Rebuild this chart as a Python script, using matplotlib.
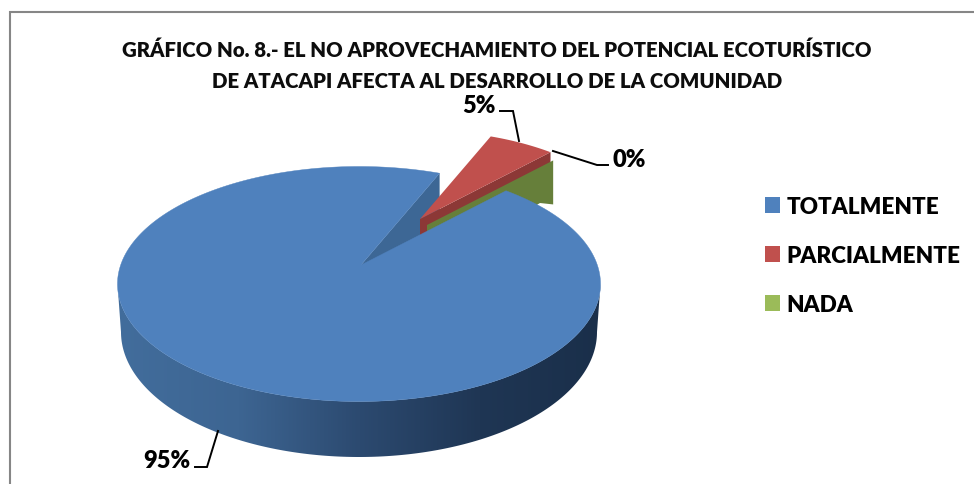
import numpy as np
import matplotlib
matplotlib.use("Agg")
import matplotlib.pyplot as plt
from matplotlib.patches import Polygon, Patch
from matplotlib.colors import LinearSegmentedColormap

categories = ["TOTALMENTE", "PARCIALMENTE", "NADA"]
values = [95, 5, 0]
labels = ["95%", "5%", "0%"]
title = ("GRÁFICO No. 8.- EL NO APROVECHAMIENTO DEL POTENCIAL ECOTURÍSTICO\n"
         "DE ATACAPI AFECTA AL DESARROLLO DE LA COMUNIDAD")
colors = ["#4f81bd", "#c0504d", "#9bbb59"]

plt.rcParams["font.family"] = ["Lato", "DejaVu Sans"]
fig = plt.figure(figsize=(9.74, 4.85), dpi=100)
ax = fig.add_axes([0, 0, 1, 1])
ax.axis("off")

# frame: only the left and top edges fall inside the crop
ax.plot([9.5, 9.5, 974], [485, 12.5, 12.5], color="#868686", lw=1.5, zorder=1,
        solid_joinstyle="miter")

cx, cy, rx, ry = 359, 285, 241.5, 117.5
cxb, cyb, rxb, ryb = 359, 333, 238, 125
apex = np.array([361.0, 266.0])
depth = 44

def top(t):
    t = np.radians(t)
    return np.column_stack([cx + rx*np.cos(t), cy - ry*np.sin(t)])

def bottom(t):
    t = np.radians(t)
    return np.column_stack([cxb + rxb*np.cos(t), cyb - ryb*np.sin(t)])

total = sum(values)
start = 52.5
spans = [360*v/total for v in values]
blue_a, blue_b = start, start - spans[0]
red_a, red_b = blue_b + 360, blue_b + 360 - spans[1]
green_a = red_b

# outer wall of the large slice: horizontal shading clipped to the rim
ts = np.linspace(180, 360, 241)
wall = Polygon(np.vstack([top(ts), bottom(ts)[::-1]]), fc="none", ec="none", zorder=2)
ax.add_patch(wall)
cmap = LinearSegmentedColormap.from_list("w", ["#426d9c", "#3d6592", "#2c4a70", "#1f3654", "#1a2f4a"])
grad = np.linspace(0, 1, 512)[None, :]
im = ax.imshow(grad, cmap=cmap, extent=(cx-rx, cx+rx, 470, 280), aspect="auto", zorder=2,
               interpolation="bilinear")
im.set_clip_path(wall)

ax.set_xlim(0, 974); ax.set_ylim(485, 0)

# cut face of the large slice, behind the gap
pb72 = top([red_a])[0]
d = np.array([0, depth])
ax.add_patch(Polygon([apex, pb72, pb72+d, apex+d], fc="#3d6795", ec="none", zorder=3))

# exploded small slices
k_red = 0.9
apex_r = np.array([420.0, 220.0])
tr = np.linspace(red_a, red_b, 30)
arc_r = apex_r + k_red*(top(tr) - apex)
ax.add_patch(Polygon(np.vstack([apex_r, arc_r[-1], arc_r[-1]+[0, 44], apex_r+[0, 44]]),
                     fc="#8c3836", ec="none", zorder=4))
ax.add_patch(Polygon(np.vstack([apex_r, arc_r]), fc=colors[1], ec="none", zorder=5))

k_g = 0.87
apex_g = np.array([427.0, 226.0])
og = apex_g + k_g*(top([green_a])[0] - apex)
ax.add_patch(Polygon([apex_g, og, og+[0, 44], [540, 204], apex_g+[0, 44]],
                     fc="#667f3a", ec="none", zorder=6))

# top face of the large slice
tb = np.linspace(blue_a, blue_b, 400)
ax.add_patch(Polygon(np.vstack([apex, top(tb)]), fc=colors[0], ec=colors[0], lw=0.3, zorder=7))

# leader lines
for xs, ys in [([218, 207, 195], [432, 468, 468]),
               ([519, 513, 500], [142, 112, 112]),
               ([553, 597, 608], [152, 166, 166])]:
    ax.plot(xs, ys, color="black", lw=1.4, zorder=8, solid_joinstyle="miter")

fs = 17
w = 800
ax.text(167, 461, labels[0], fontsize=fs, fontweight=w, ha="center", va="center", zorder=9)
ax.text(479, 106, labels[1], fontsize=fs, fontweight=w, ha="center", va="center", zorder=9)
ax.text(629, 160, labels[2], fontsize=fs, fontweight=w, ha="center", va="center", zorder=9)

ax.text(497, 65.5, title, fontsize=14.7, fontweight=w, ha="center", va="center",
        linespacing=1.75, zorder=9, color="#0d0d0d")

handles = [Patch(fc=c, ec="none", label=l) for c, l in zip(colors, categories)]
ax.legend(handles=handles, loc="upper left", bbox_to_anchor=(765/974, 1-197/485), frameon=False,
          prop={"family": "Lato", "weight": w, "size": 16.2},
          handlelength=0.67, handleheight=0.67, handletextpad=0.3, labelspacing=1.24,
          borderpad=0, borderaxespad=0)

fig.savefig("out.png", dpi=100)
